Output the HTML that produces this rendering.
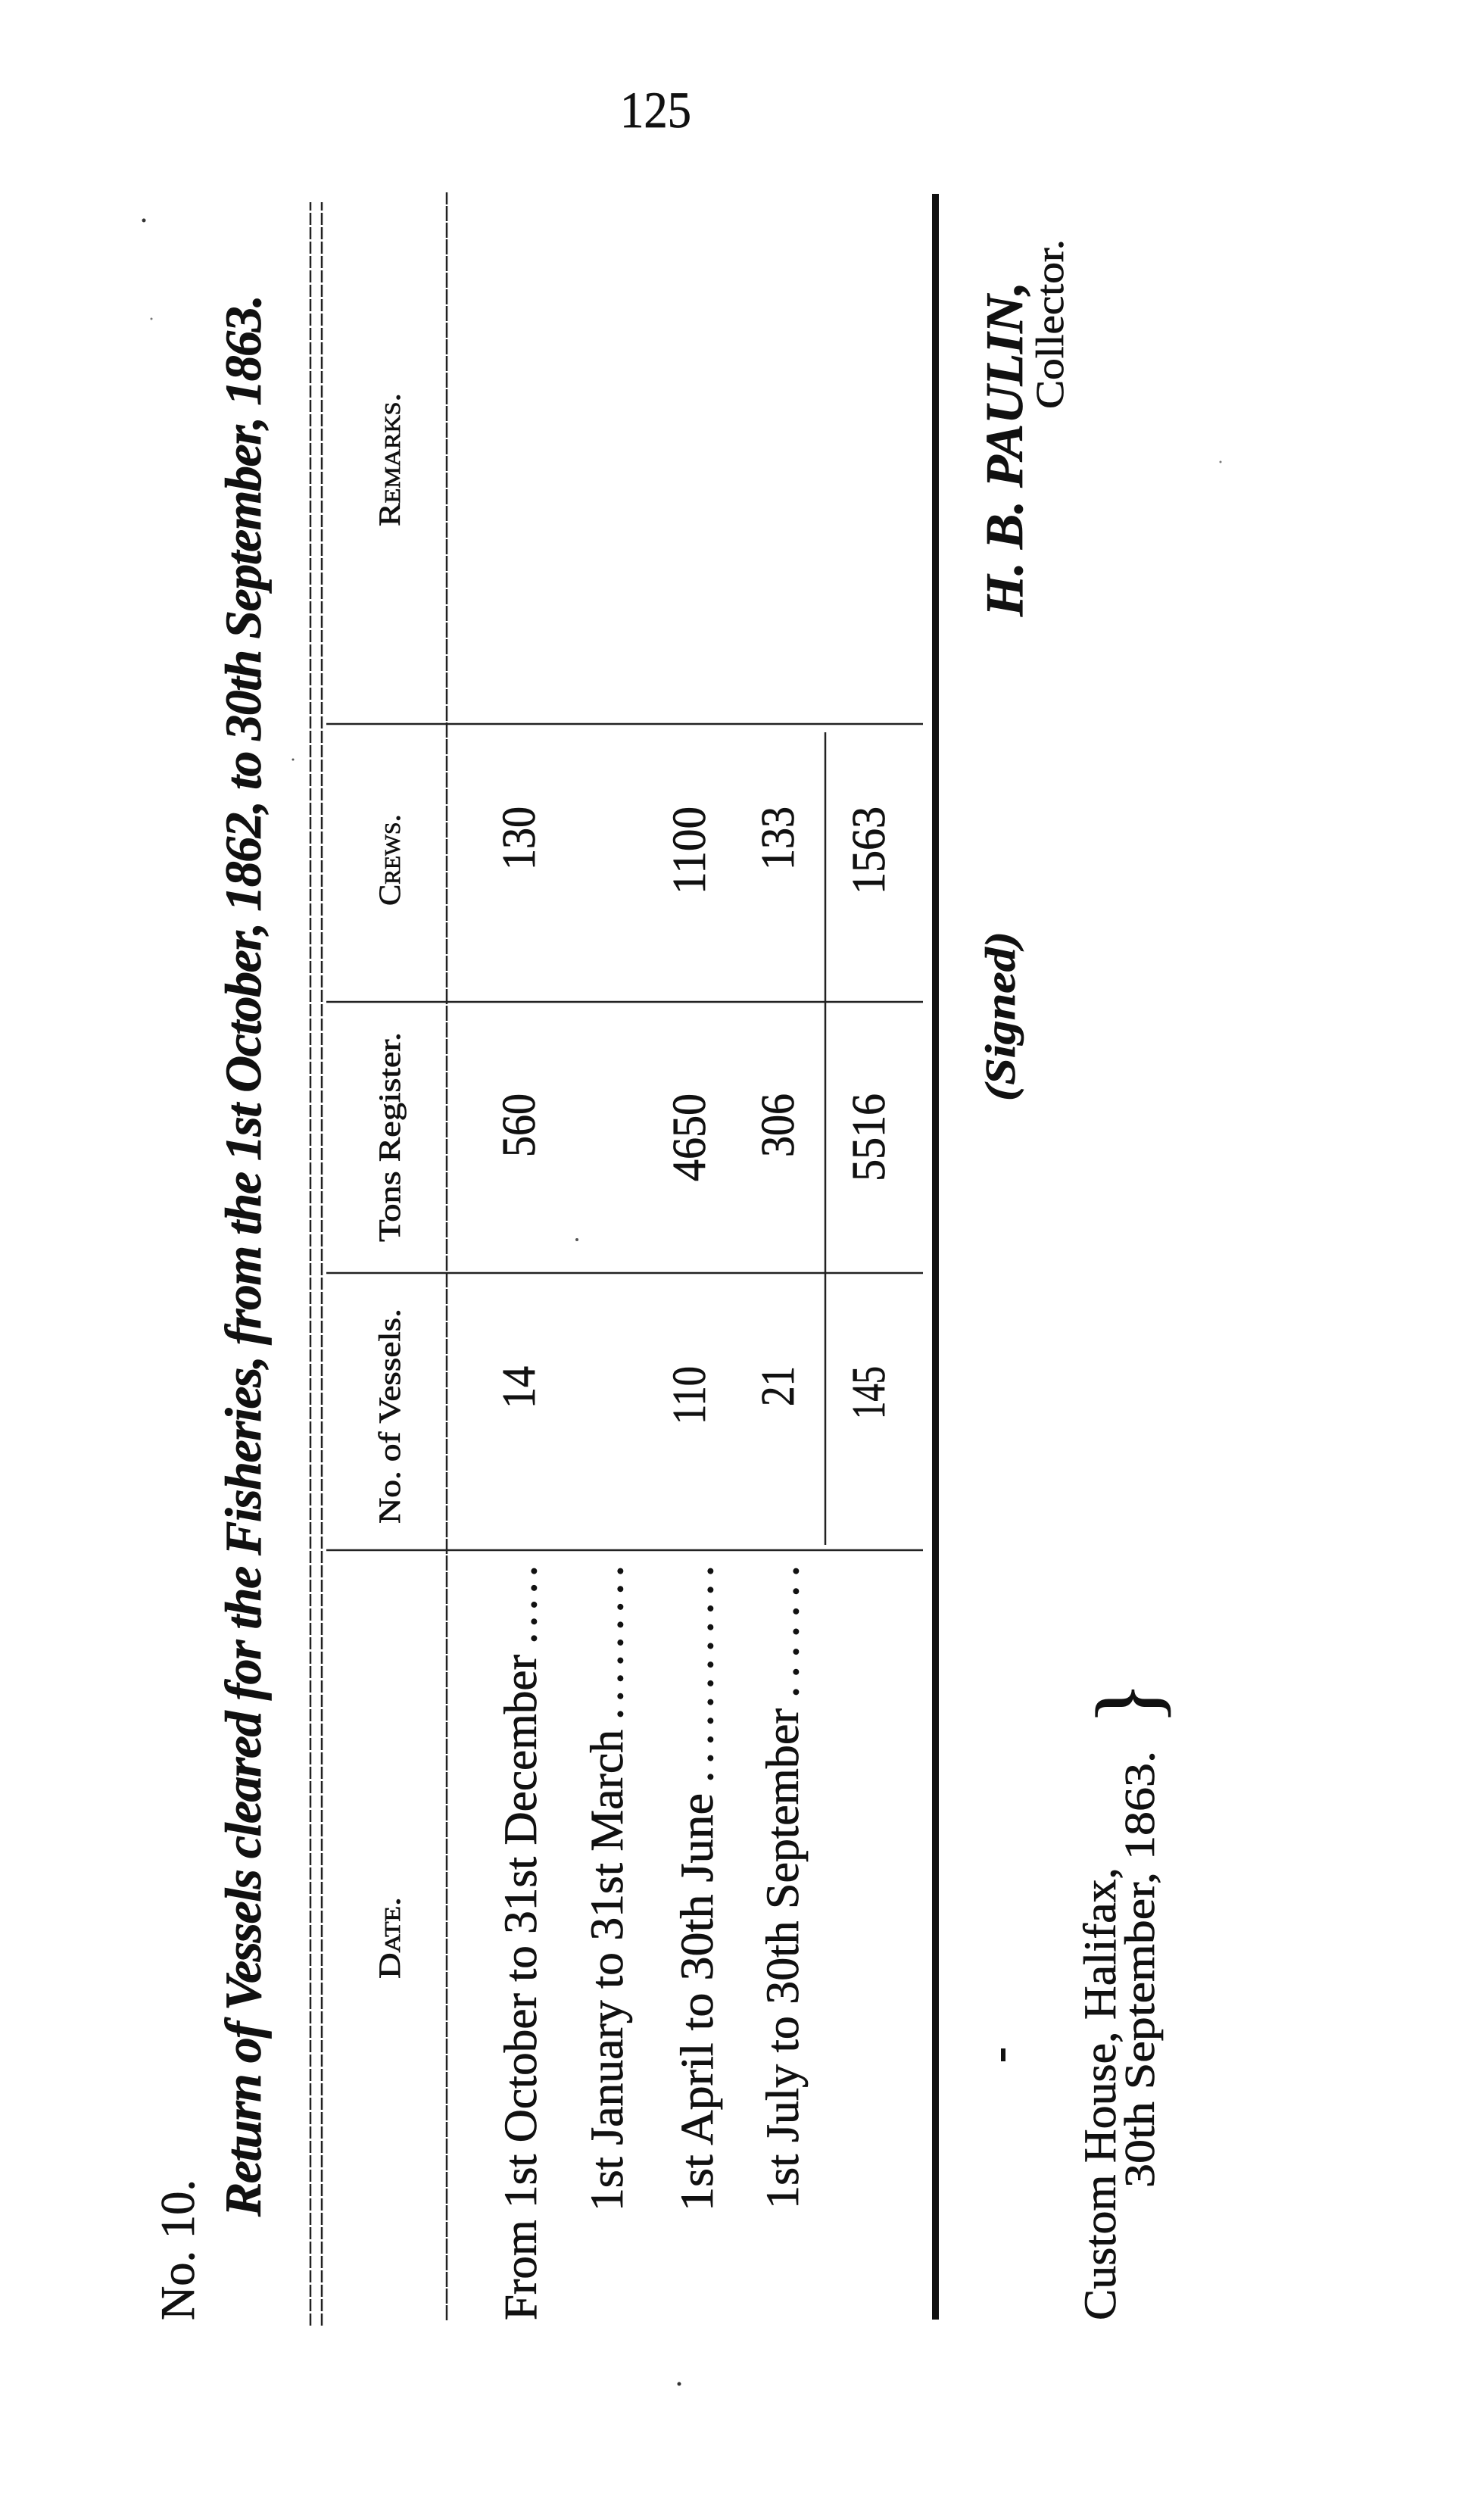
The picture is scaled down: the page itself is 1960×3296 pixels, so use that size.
<!DOCTYPE html>
<html><head><meta charset="utf-8"><style>
html,body{margin:0;padding:0;background:#fff;}
svg{display:block;}
text{font-family:"Liberation Serif",serif;fill:#111;stroke:#111;stroke-width:0.7;}
</style></head><body>
<svg width="1960" height="3296" viewBox="0 0 1960 3296" xmlns="http://www.w3.org/2000/svg">
<rect width="1960" height="3296" fill="#fff"/>
<text x="819" y="168" font-size="68" textLength="94" lengthAdjust="spacingAndGlyphs">125</text>
<circle cx="190" cy="291" r="2.5" fill="#333"/>
<circle cx="897" cy="3148" r="2.5" fill="#333"/>
<circle cx="387" cy="1003" r="1.5" fill="#555"/>
<circle cx="762" cy="1637" r="2" fill="#555"/>
<circle cx="1612" cy="610" r="1.5" fill="#777"/>
<circle cx="200" cy="421" r="1.5" fill="#777"/>
<rect x="1322" y="2705" width="6" height="17" fill="#111"/>
<g transform="translate(0,3296) rotate(-90)">
  <!-- lines -->
  <g stroke="#222" stroke-width="2.5" fill="none">
    <line x1="225" y1="410" x2="3029" y2="410" stroke-dasharray="16 3"/>
    <line x1="225" y1="425" x2="3029" y2="425" stroke-dasharray="16 3"/>
    <line x1="232" y1="590" x2="3042" y2="590" stroke-dasharray="20 2"/>
    <line x1="1249" y1="431" x2="1249" y2="1219"/>
    <line x1="1615" y1="431" x2="1615" y2="1219"/>
    <line x1="1973" y1="431" x2="1973" y2="1219"/>
    <line x1="2340" y1="431" x2="2340" y2="1219"/>
    <line x1="1256" y1="1090" x2="2329" y2="1090"/>
  </g>
  <rect x="233" y="1231" width="2807" height="9" fill="#111"/>

  <text x="232" y="256" font-size="64" textLength="186" lengthAdjust="spacingAndGlyphs">No. 10.</text>
  <text x="369" y="344" font-size="68" font-weight="bold" font-style="italic" textLength="2538" lengthAdjust="spacing">Return of Vessels cleared for the Fisheries, from the 1st October, 1862, to 30th September, 1863.</text>

  <!-- headers -->
  <text x="683" y="528" font-size="40" style="font-variant:small-caps" textLength="108" lengthAdjust="spacingAndGlyphs">Date.</text>
  <text x="1284" y="528" font-size="40" textLength="284" lengthAdjust="spacingAndGlyphs">No. of Vessels.</text>
  <text x="1656" y="528" font-size="40" textLength="277" lengthAdjust="spacingAndGlyphs">Tons Register.</text>
  <text x="2100" y="528" font-size="40" style="font-variant:small-caps" textLength="121" lengthAdjust="spacingAndGlyphs">Crews.</text>
  <text x="2601" y="528" font-size="40" style="font-variant:small-caps" textLength="176" lengthAdjust="spacingAndGlyphs">Remarks.</text>

  <!-- date rows -->
  <text x="232" y="708" font-size="61" textLength="879" lengthAdjust="spacingAndGlyphs">From 1st October to 31st December</text>
  <text x="1125" y="708" font-size="61" textLength="104" lengthAdjust="spacing">. . . . .</text>
  <text x="376" y="822" font-size="61" textLength="636" lengthAdjust="spacingAndGlyphs">1st January to 31st March</text>
  <text x="1025" y="822" font-size="61" textLength="204" lengthAdjust="spacing">. . . . . . . . .</text>
  <text x="376" y="941" font-size="61" textLength="552" lengthAdjust="spacingAndGlyphs">1st April to 30th June</text>
  <text x="942" y="941" font-size="61" textLength="287" lengthAdjust="spacing">. . . . . . . . . . . .</text>
  <text x="379" y="1054" font-size="61" textLength="661" lengthAdjust="spacingAndGlyphs">1st July to 30th September</text>
  <text x="1054" y="1054" font-size="61" textLength="175" lengthAdjust="spacing">. . . . . . .</text>

  <!-- numbers -->
  <g font-size="62">
    <text x="1436" y="706" textLength="56" lengthAdjust="spacingAndGlyphs">14</text>
    <text x="1415" y="931" textLength="77" lengthAdjust="spacingAndGlyphs">110</text>
    <text x="1439" y="1048" textLength="53" lengthAdjust="spacingAndGlyphs">21</text>
    <text x="1422" y="1168" textLength="70" lengthAdjust="spacingAndGlyphs">145</text>
    <text x="1768" y="706" textLength="84" lengthAdjust="spacingAndGlyphs">560</text>
    <text x="1736" y="931" textLength="116" lengthAdjust="spacingAndGlyphs">4650</text>
    <text x="1768" y="1048" textLength="84" lengthAdjust="spacingAndGlyphs">306</text>
    <text x="1736" y="1168" textLength="116" lengthAdjust="spacingAndGlyphs">5516</text>
    <text x="2147" y="706" textLength="84" lengthAdjust="spacingAndGlyphs">130</text>
    <text x="2115" y="931" textLength="116" lengthAdjust="spacingAndGlyphs">1100</text>
    <text x="2147" y="1048" textLength="84" lengthAdjust="spacingAndGlyphs">133</text>
    <text x="2115" y="1168" textLength="116" lengthAdjust="spacingAndGlyphs">1563</text>
  </g>

  <!-- signature -->
  <text x="1842" y="1340" font-size="56" font-style="italic" font-weight="bold" textLength="224" lengthAdjust="spacingAndGlyphs">(Signed)</text>
  <text x="2482" y="1350" font-size="70" font-style="italic" font-weight="bold" textLength="442" lengthAdjust="spacing">H. B. PAULIN,</text>
  <text x="2756" y="1404" font-size="52" textLength="224" lengthAdjust="spacingAndGlyphs">Collector.</text>
  <text x="232" y="1473" font-size="60" textLength="598" lengthAdjust="spacingAndGlyphs">Custom House, Halifax,</text>
  <text x="407" y="1524" font-size="56" textLength="577" lengthAdjust="spacingAndGlyphs">30th September, 1863.</text>
  <text x="1018" y="1530" font-size="120" transform="translate(0,0)">}</text>
</g>
</svg>
</body></html>
